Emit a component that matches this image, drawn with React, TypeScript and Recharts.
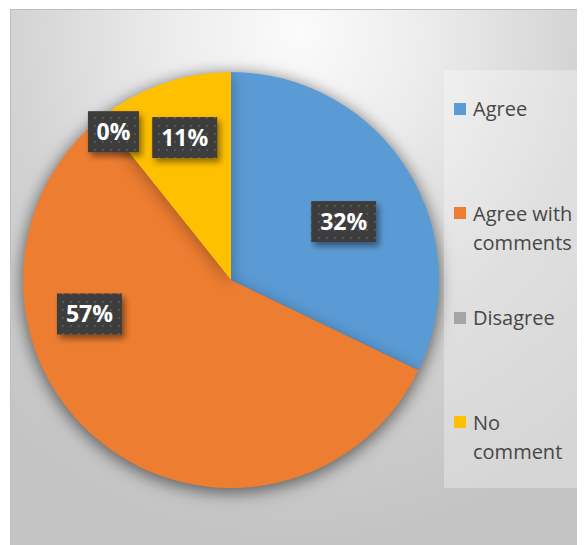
import { PieChart, Pie, Cell, Legend } from 'recharts';

const categories = ['Agree', 'Agree with comments', 'Disagree', 'No comment'];
const responses = [9, 16, 0, 3];
const colors = ['#5B9BD5', '#ED7D31', '#A5A5A5', '#FFC000'];

// where the best-fit labels sit: degrees (counter-clockwise from 3 o'clock) and fraction of radius
const labelSpots = [
  { angle: 27.4, r: 0.61 },
  { angle: 193.5, r: 0.7 },
  { angle: 128.4, r: 0.91 },
  { angle: 108, r: 0.72 },
];

const data = categories.map((name, i) => ({ name, value: responses[i] }));

const FONT = '"Open Sans", "DejaVu Sans", sans-serif';

const renderLabel = (props: any) => {
  const { cx, cy, outerRadius, index, percent } = props;
  const spot = labelSpots[index];
  const rad = (spot.angle * Math.PI) / 180;
  const x = cx + outerRadius * spot.r * Math.cos(rad);
  const y = cy - outerRadius * spot.r * Math.sin(rad);
  const text = `${Math.round((percent || 0) * 100)}%`;
  const w = text.length * 14 + 23;
  const h = 41;
  return (
    <g key={`lbl-${index}`}>
      <rect x={x - w / 2} y={y - h / 2} width={w} height={h} fill="url(#dots)" filter="url(#boxShadow)" />
      <text
        x={x}
        y={y}
        dy="0.36em"
        textAnchor="middle"
        fill="#ffffff"
        fontWeight={700}
        fontSize={23}
        fontFamily={FONT}
      >
        {text}
      </text>
    </g>
  );
};

const renderLegend = (props: any) => {
  const { payload } = props;
  return (
    <div style={{ position: 'relative', width: 141, height: 418, background: 'rgba(255,255,255,0.3)' }}>
      {(payload || []).map((entry: any, i: number) => (
        <div
          key={entry.value}
          style={{
            position: 'absolute',
            left: 29,
            top: 24 + i * 104.5,
            width: 112,
            fontFamily: FONT,
            fontSize: 20,
            lineHeight: '29px',
            color: '#474747',
          }}
        >
          <span
            style={{
              position: 'absolute',
              left: -19,
              top: 8.5,
              width: 12,
              height: 12,
              background: entry.color,
            }}
          />
          {entry.value}
        </div>
      ))}
    </div>
  );
};

export default function App() {
  return (
    <div
      style={{
        marginLeft: 2,
        marginTop: 1,
        width: 575,
        height: 536,
        borderTop: '1px solid #bdbdbd',
        borderLeft: '1px solid #bdbdbd',
        background:
          'radial-gradient(ellipse 80% 95% at 50% 4%, #fbfbfb 0%, #ececec 28%, #d3d3d3 62%, #c4c4c4 100%)',
        overflow: 'hidden',
      }}
    >
      <style>{`.pie-shadow { filter: drop-shadow(0px 3px 8px rgba(0,0,0,0.32)); }`}</style>
      <PieChart width={575} height={536} margin={{ top: 0, right: 0, bottom: 0, left: 0 }}>
        <defs>
          <pattern id="dots" width="8" height="8" patternUnits="userSpaceOnUse">
            <rect width="8" height="8" fill="#3c3c3c" />
            <rect x="3" y="3" width="2" height="2" fill="#545454" />
          </pattern>
          <filter id="boxShadow" x="-30%" y="-30%" width="170%" height="180%">
            <feDropShadow dx="3" dy="4" stdDeviation="3" floodColor="#000" floodOpacity="0.45" />
          </filter>
        </defs>
        <Pie
          className="pie-shadow"
          data={data}
          dataKey="value"
          nameKey="name"
          cx={220}
          cy={270}
          outerRadius={208}
          startAngle={90}
          endAngle={-270}
          stroke="none"
          label={renderLabel}
          labelLine={false}
          isAnimationActive={false}
        >
          {data.map((d, i) => (
            <Cell key={d.name} fill={colors[i]} />
          ))}
        </Pie>
        <Legend
          layout="vertical"
          align="right"
          verticalAlign="top"
          content={renderLegend}
          wrapperStyle={{ left: 433, top: 60, width: 141, height: 418, right: 'auto' }}
        />
      </PieChart>
    </div>
  );
}
